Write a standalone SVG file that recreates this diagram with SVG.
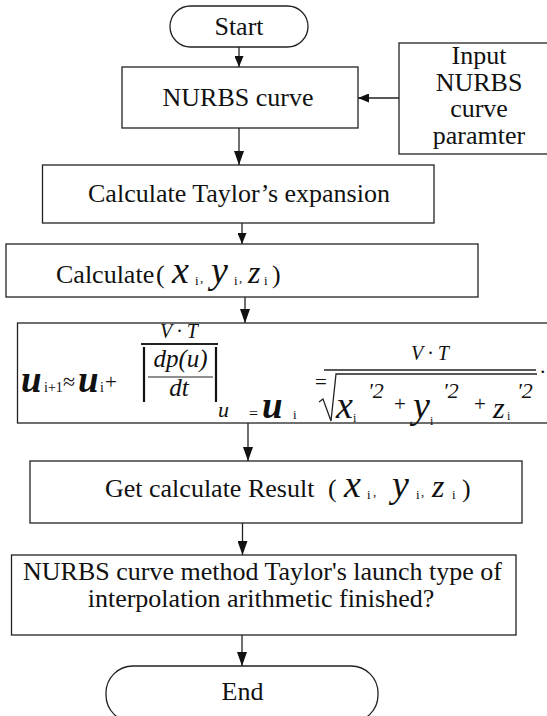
<svg xmlns="http://www.w3.org/2000/svg" width="547" height="716" viewBox="0 0 547 716">
<style>
.box{fill:#fff;stroke:#222;stroke-width:1.3}
.ln{fill:none;stroke:#222;stroke-width:1.3}
.t{font-family:"Liberation Serif","Times New Roman",serif;font-size:26px;fill:#111}
.c{text-anchor:middle}
.it{font-family:"Liberation Serif","Times New Roman",serif;font-style:italic;fill:#111}
.bi{font-family:"Liberation Serif","Times New Roman",serif;font-style:italic;font-weight:bold;fill:#111}
.rm{font-family:"Liberation Serif","Times New Roman",serif;fill:#111}
</style>
<defs>
<marker id="ah" markerUnits="userSpaceOnUse" markerWidth="14" markerHeight="10" refX="14" refY="5" orient="auto">
<path d="M0,0 L14,5 L0,10 z" fill="#111"/>
</marker>
<marker id="ahs" markerUnits="userSpaceOnUse" markerWidth="11" markerHeight="9" refX="11" refY="4.5" orient="auto">
<path d="M0,0 L11,4.5 L0,9 z" fill="#111"/>
</marker>
</defs>

<g id="connectors">
<line class="ln" x1="239" y1="47" x2="239" y2="67" marker-end="url(#ahs)"/>
<line class="ln" x1="399" y1="98" x2="358" y2="98" marker-end="url(#ahs)"/>
<line class="ln" x1="239" y1="128" x2="239" y2="165" marker-end="url(#ah)"/>
<line class="ln" x1="242" y1="223" x2="242" y2="244" marker-end="url(#ahs)"/>
<line class="ln" x1="245" y1="297" x2="245" y2="323" marker-end="url(#ah)"/>
<line class="ln" x1="248" y1="423" x2="248" y2="461" marker-end="url(#ah)"/>
<line class="ln" x1="242.5" y1="523" x2="242.5" y2="555" marker-end="url(#ah)"/>
<line class="ln" x1="242" y1="635" x2="242" y2="666" marker-end="url(#ah)"/>
</g>

<g id="start">
<rect class="box" x="170" y="6" width="138" height="41" rx="20.5" ry="20.5"/>
<text class="t c" x="239" y="35">Start</text>
</g>

<g id="nurbs-curve">
<rect class="box" x="122" y="67" width="236" height="61"/>
<text class="t c" x="238" y="106">NURBS curve</text>
</g>

<g id="input">
<rect class="box" x="399" y="43" width="160" height="111"/>
<text class="t c" x="479" y="64"><tspan x="479">Input</tspan><tspan x="479" dy="26.5">NURBS</tspan><tspan x="479" dy="26.5">curve</tspan><tspan x="479" dy="26.5">paramter</tspan></text>
</g>

<g id="taylor">
<rect class="box" x="42.5" y="165" width="391.5" height="58"/>
<text class="t c" x="239" y="202">Calculate Taylor’s expansion</text>
</g>

<g id="calculate">
<rect class="box" x="6" y="244" width="472" height="53"/>
<text class="t" x="56" y="283">Calculate</text>
<text class="t" x="156" y="283">(</text>
<text class="it" x="172" y="283" font-size="38">x</text>
<text class="rm" x="195" y="285" font-size="13">i</text>
<text class="rm" x="200" y="282" font-size="13">,</text>
<text class="it" x="211" y="283" font-size="38">y</text>
<text class="rm" x="234" y="285" font-size="13">i</text>
<text class="rm" x="239" y="282" font-size="13">,</text>
<text class="it" x="248" y="283" font-size="32">z</text>
<text class="rm" x="264" y="285" font-size="13">i</text>
<text class="t" x="272" y="283">)</text>
</g>

<g id="formula">
<rect class="box" x="17.5" y="323" width="545" height="100"/>
<text class="bi" x="21" y="392" font-size="37">u</text>
<text class="rm" x="44" y="392" font-size="14">i+1</text>
<text class="rm" x="63" y="389" font-size="22">≈</text>
<text class="bi" x="78" y="392" font-size="37">u</text>
<text class="rm" x="100" y="392" font-size="14">i</text>
<text class="rm" x="105" y="389" font-size="21">+</text>
<text class="it c" x="179" y="338" font-size="20">V · T</text>
<line x1="141" y1="344" x2="218" y2="344" stroke="#222" stroke-width="2"/>
<line x1="144" y1="347" x2="144" y2="402" stroke="#111" stroke-width="2.2"/>
<line x1="216" y1="347" x2="216" y2="402" stroke="#111" stroke-width="2.2"/>
<text class="it c" x="180.5" y="367" font-size="25">dp(u)</text>
<line x1="148" y1="377" x2="213" y2="377" stroke="#222" stroke-width="1.2"/>
<text class="it c" x="179" y="396" font-size="25">dt</text>
<text class="it" x="218" y="417" font-size="22">u</text>
<text class="rm" x="249" y="419" font-size="16">=</text>
<text class="bi" x="262" y="418" font-size="37">u</text>
<text class="rm" x="293" y="419" font-size="13">i</text>
<text class="rm" x="315" y="389" font-size="21">=</text>
<line x1="324" y1="370" x2="536" y2="370" stroke="#222" stroke-width="1.6"/>
<text class="it c" x="430" y="360" font-size="20">V · T</text>
<path class="ln" d="M319 402 L323 399 L331 421 L336 374 L537 374"/>
<text class="it" x="336" y="418" font-size="38">x</text>
<text class="rm" x="353" y="422" font-size="12">i</text>
<text class="it" x="368" y="398" font-size="22">'2</text>
<text class="rm" x="394" y="411" font-size="21">+</text>
<text class="it" x="413" y="418" font-size="38">y</text>
<text class="rm" x="430" y="425" font-size="12">i</text>
<text class="it" x="443" y="398" font-size="22">'2</text>
<text class="rm" x="474" y="411" font-size="21">+</text>
<text class="it" x="493" y="418" font-size="30">z</text>
<text class="rm" x="507" y="420" font-size="12">i</text>
<text class="it" x="517" y="398" font-size="22">'2</text>
<text class="rm" x="540" y="373" font-size="22">.</text>
</g>

<g id="result">
<rect class="box" x="30" y="461" width="492" height="62"/>
<text class="t" x="105" y="497">Get calculate Result</text>
<text class="t" x="328" y="497">(</text>
<text class="it" x="344" y="497" font-size="38">x</text>
<text class="rm" x="367" y="499" font-size="13">i</text>
<text class="rm" x="373" y="496" font-size="13">,</text>
<text class="it" x="392" y="497" font-size="38">y</text>
<text class="rm" x="416" y="499" font-size="13">i</text>
<text class="rm" x="421" y="496" font-size="13">,</text>
<text class="it" x="432" y="497" font-size="32">z</text>
<text class="rm" x="452" y="499" font-size="13">i</text>
<text class="t" x="462" y="497">)</text>
</g>

<g id="finished">
<rect class="box" x="11.5" y="555" width="504.5" height="80"/>
<text class="t c" x="262.5" y="580"><tspan x="262.5">NURBS curve method Taylor's launch type of</tspan><tspan x="261" dy="27">interpolation arithmetic finished?</tspan></text>
</g>

<g id="end">
<rect class="box" x="106" y="666" width="272" height="56" rx="27" ry="27"/>
<text class="t c" x="242.5" y="700">End</text>
</g>
</svg>
